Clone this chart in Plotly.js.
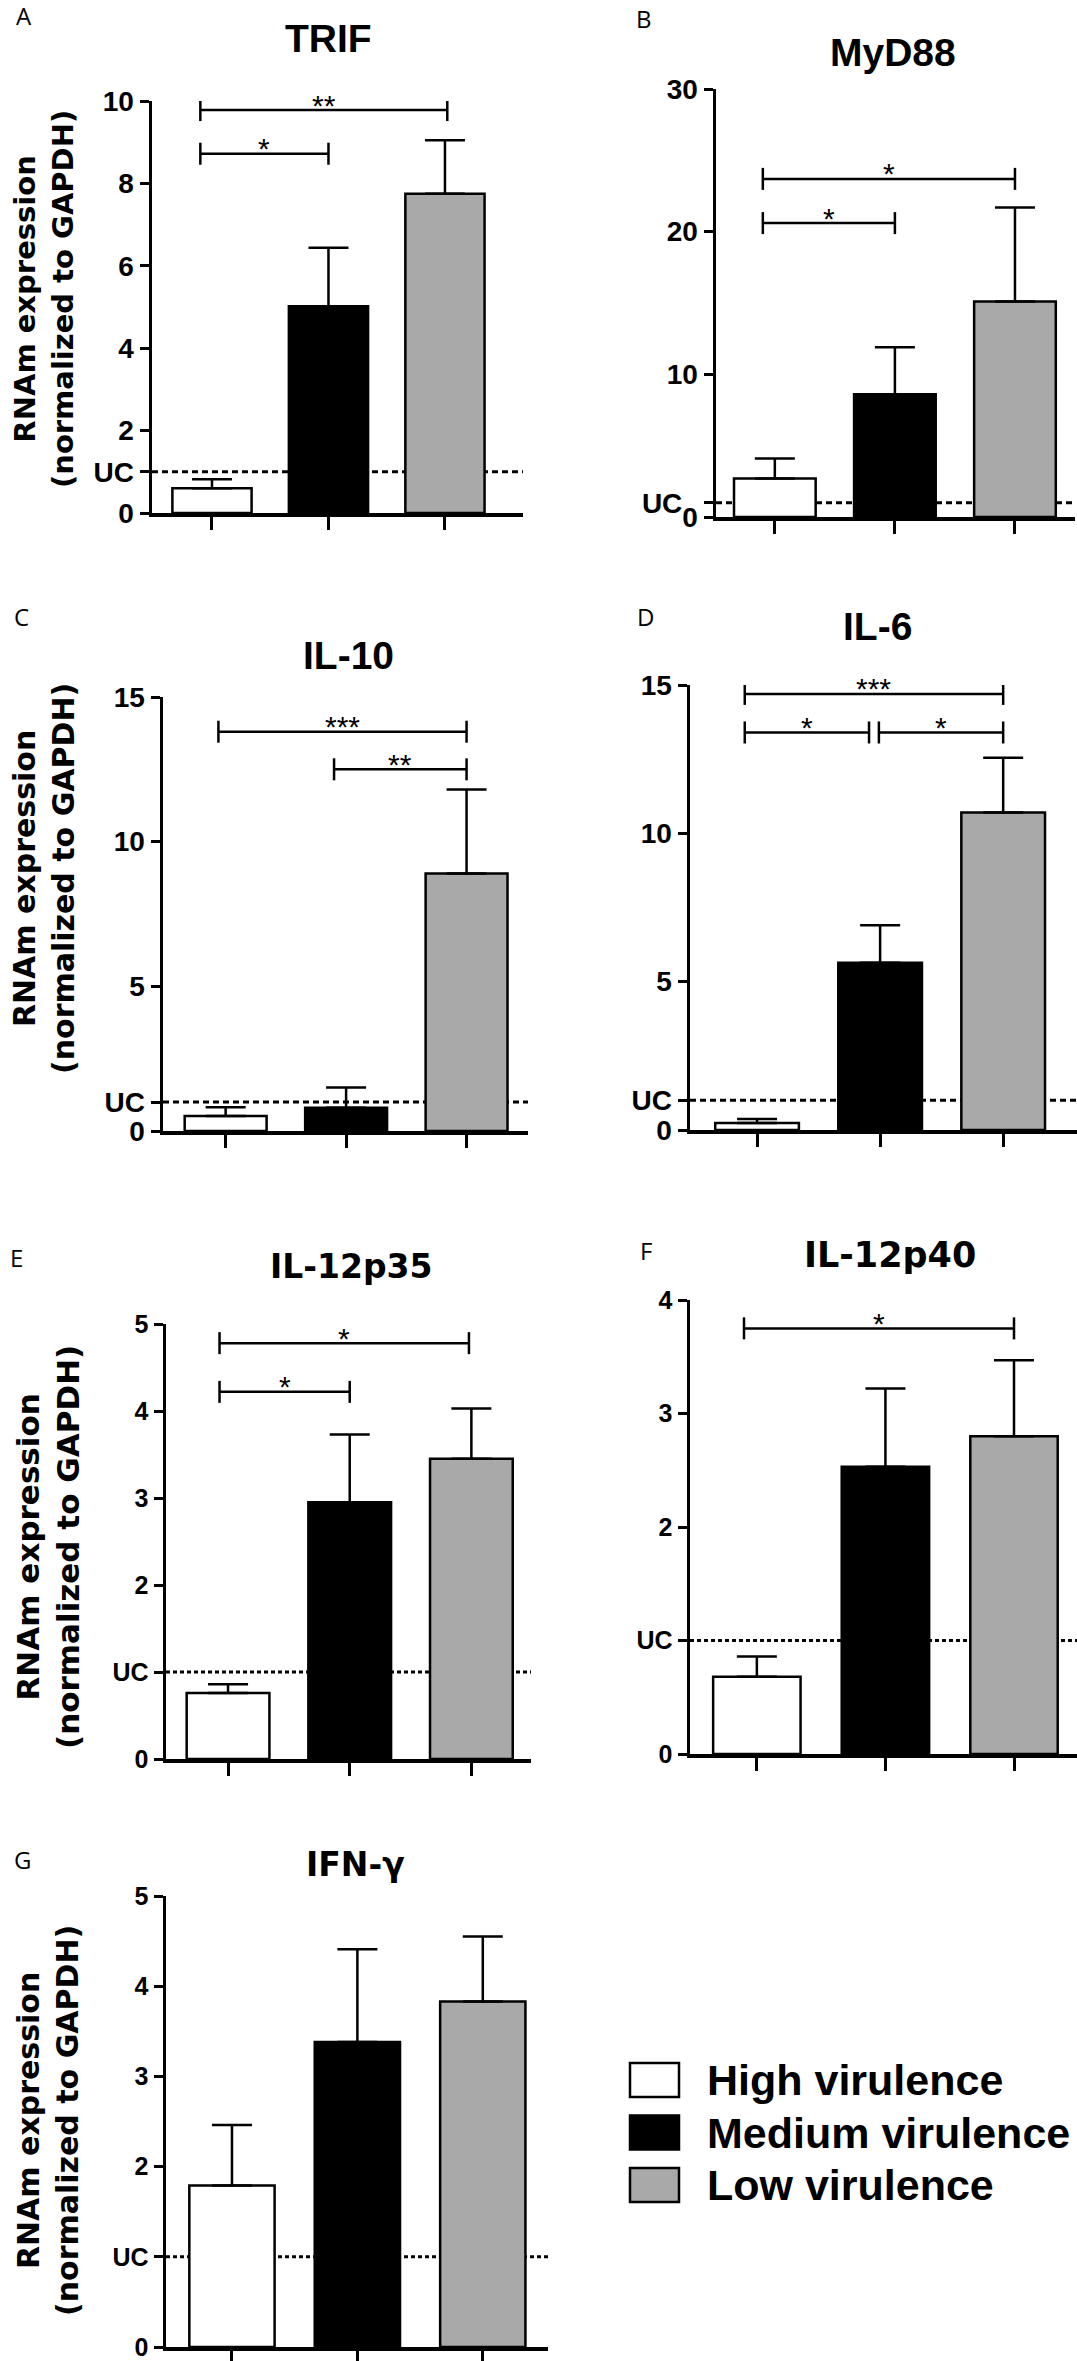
<!DOCTYPE html>
<html>
<head>
<meta charset="utf-8">
<script src="https://cdn.plot.ly/plotly-3.0.1.min.js"></script>
<style>
  body { margin: 0; background: #fff; }
  #chart { width: 1077px; height: 2361px; }
</style>
</head>
<body>
<div id="chart"></div>
<script>
// ─── Data ───────────────────────────────────────────────────
var groups = ['High virulence', 'Medium virulence', 'Low virulence'];
var groupColors = ['#ffffff', '#000000', '#a9a9a9'];

// significance rows: [from, to, height, stars]
var trifMean = [0.6, 5.02, 7.75];
var trifErr = [0.22, 1.42, 1.3];
var trifSig = [[-0.1, 1, 8.72, '*'], [-0.1, 2.02, 9.78, '**']];

var myd88Mean = [2.7, 8.6, 15.1];
var myd88Err = [1.4, 3.3, 6.6];
var myd88Sig = [[-0.1, 1, 20.6, '*'], [-0.1, 2, 23.7, '*']];

var il10Mean = [0.52, 0.8, 8.9];
var il10Err = [0.3, 0.7, 2.9];
var il10Sig = [[-0.06, 2, 13.8, '***'], [0.9, 2, 12.5, '**']];

var il6Mean = [0.24, 5.64, 10.7];
var il6Err = [0.13, 1.26, 1.85];
var il6Sig = [[-0.1, 2, 14.7, '***'], [-0.1, 0.91, 13.4, '*'], [0.99, 2, 13.4, '*']];

var il12p35Mean = [0.76, 2.95, 3.45];
var il12p35Err = [0.1, 0.78, 0.58];
var il12p35Sig = [[-0.07, 1, 4.22, '*'], [-0.07, 1.98, 4.78, '*']];

var il12p40Mean = [0.68, 2.53, 2.8];
var il12p40Err = [0.18, 0.69, 0.67];
var il12p40Sig = [[-0.1, 2, 3.75, '*']];

var ifngMean = [1.79, 3.38, 3.83];
var ifngErr = [0.67, 1.03, 0.72];
var ifngSig = [];

var ucLevel = 1;
var yTitleText = 'RNAm expression<br>(normalized to GAPDH)';

// ─── Panel layout (pixels in a 1077 x 2361 page) ────────────
var W = 1077, H = 2361;
var BOLD = 'Liberation Sans, Arial, sans-serif';
var WIDE = 'DejaVu Sans, sans-serif';

var panels = [
  { letter: 'A', title: 'TRIF', mean: trifMean, err: trifErr, sig: trifSig,
    ymax: 10, ticks: [0, 1, 2, 4, 6, 8, 10], tickText: ['0', 'UC', '2', '4', '6', '8', '10'],
    ax: 152, end: 523, y0: 513, yTop: 101, xr: [-0.515, 2.67], tickSize: 28, dash: '6px,4px',
    titlePos: [328, 39, 39, BOLD], letterPos: [14, 16], yTitle: [44, 299, 29] },
  { letter: 'B', title: 'MyD88', mean: myd88Mean, err: myd88Err, sig: myd88Sig,
    ymax: 30, ticks: [0, 1, 10, 20, 30], tickText: ['0', 'UC\u00a0\u00a0', '10', '20', '30'],
    ax: 716, end: 1075, y0: 517, yTop: 89, xr: [-0.49, 2.5], tickSize: 28, dash: '6px,4px',
    titlePos: [893, 52, 39, BOLD], letterPos: [634, 18], yTitle: null },
  { letter: 'C', title: 'IL-10', mean: il10Mean, err: il10Err, sig: il10Sig,
    ymax: 15, ticks: [0, 1, 5, 10, 15], tickText: ['0', 'UC', '5', '10', '15'],
    ax: 163, end: 528, y0: 1131, yTop: 697, xr: [-0.52, 2.51], tickSize: 28, dash: '6px,4px',
    titlePos: [348, 655, 39, BOLD], letterPos: [12, 617], yTitle: [44, 879, 30] },
  { letter: 'D', title: 'IL-6', mean: il6Mean, err: il6Err, sig: il6Sig,
    ymax: 15, ticks: [0, 1, 5, 10, 15], tickText: ['0', 'UC', '5', '10', '15'],
    ax: 690, end: 1077, y0: 1130, yTop: 685, xr: [-0.545, 2.6], tickSize: 28, dash: '6px,4px',
    titlePos: [877, 627, 39, BOLD], letterPos: [635, 617], yTitle: null },
  { letter: 'E', title: 'IL-12p35', mean: il12p35Mean, err: il12p35Err, sig: il12p35Sig,
    ymax: 5, ticks: [0, 1, 2, 3, 4, 5], tickText: ['0', 'UC', '2', '3', '4', '5'],
    ax: 166, end: 531, y0: 1759, yTop: 1324, xr: [-0.51, 2.49], tickSize: 25, dash: '4px,3px',
    titlePos: [351, 1266, 33, WIDE], letterPos: [8, 1257], yTitle: [48, 1547, 31] },
  { letter: 'F', title: 'IL-12p40', mean: il12p40Mean, err: il12p40Err, sig: il12p40Sig,
    ymax: 4, ticks: [0, 1, 2, 3, 4], tickText: ['0', 'UC', '2', '3', '4'],
    ax: 690, end: 1077, y0: 1754, yTop: 1300, xr: [-0.52, 2.49], tickSize: 25, dash: '4px,3px',
    titlePos: [890, 1255, 35, WIDE], letterPos: [638, 1250], yTitle: null },
  { letter: 'G', title: 'IFN-γ', mean: ifngMean, err: ifngErr, sig: ifngSig,
    ymax: 5, ticks: [0, 1, 2, 3, 4, 5], tickText: ['0', 'UC', '2', '3', '4', '5'],
    ax: 166, end: 548, y0: 2347, yTop: 1896, xr: [-0.526, 2.52], tickSize: 25, dash: '4px,3px',
    titlePos: [355, 1864, 33, WIDE], letterPos: [12, 1859], yTitle: [48, 2121, 30] }
];

var traces = [];
var shapes = [];
var annotations = [];
var layout = {
  width: W, height: H,
  margin: { l: 0, r: 0, t: 0, b: 0 },
  paper_bgcolor: '#fff', plot_bgcolor: 'rgba(0,0,0,0)',
  showlegend: false,
  font: { family: BOLD, color: '#000' }
};

function px2x(p) { return p / W; }
function px2y(p) { return 1 - p / H; }

panels.forEach(function (p, i) {
  var n = i === 0 ? '' : String(i + 1);
  var xa = 'x' + n, ya = 'y' + n;

  layout['xaxis' + n] = {
    domain: [px2x(p.ax), px2x(p.end)], range: p.xr, anchor: ya,
    showline: true, linecolor: '#000', linewidth: 3.5,
    ticks: 'outside', tickvals: [0, 1, 2], ticklen: 13, tickwidth: 3, tickcolor: '#000',
    showticklabels: false, showgrid: false, zeroline: false, fixedrange: true
  };
  layout['yaxis' + n] = {
    domain: [px2y(p.y0), px2y(p.yTop)], range: [0, p.ymax], anchor: xa,
    showline: true, linecolor: '#000', linewidth: 3.5,
    ticks: 'outside', tickvals: p.ticks, ticktext: p.tickText,
    ticklen: 9, tickwidth: 3, tickcolor: '#000', ticklabeloverflow: 'allow',
    tickfont: { family: BOLD, size: p.tickSize, weight: 'bold', color: '#000' },
    showgrid: false, zeroline: false, fixedrange: true
  };

  traces.push({
    type: 'bar', x: [0, 1, 2], y: p.mean, width: 0.68,
    xaxis: xa, yaxis: ya, hoverinfo: 'y',
    marker: { color: groupColors, line: { color: '#000', width: 2.5 } },
    error_y: { type: 'data', symmetric: false, array: p.err, arrayminus: [0, 0, 0],
      color: '#000', thickness: 2.5, width: 20 }
  });

  // dashed untreated-control level, behind the bars
  shapes.push({
    type: 'line', layer: 'below', xref: xa + ' domain', yref: ya,
    x0: 0, x1: 1, y0: ucLevel, y1: ucLevel,
    line: { color: '#000', width: 3, dash: p.dash }
  });

  // significance brackets
  var h = 11 * p.ymax / (p.y0 - p.yTop);
  p.sig.forEach(function (s) {
    var a = s[0], b = s[1], y = s[2];
    var ln = { color: '#000', width: 2.5 };
    shapes.push({ type: 'line', xref: xa, yref: ya, x0: a, x1: b, y0: y, y1: y, line: ln });
    shapes.push({ type: 'line', xref: xa, yref: ya, x0: a, x1: a, y0: y - h, y1: y + h, line: ln });
    shapes.push({ type: 'line', xref: xa, yref: ya, x0: b, x1: b, y0: y - h, y1: y + h, line: ln });
    annotations.push({
      xref: xa, yref: ya, x: (a + b) / 2, y: y, text: s[3], showarrow: false,
      yanchor: 'middle', yshift: 5, font: { family: BOLD, size: 30, color: '#000' }
    });
  });

  annotations.push({
    xref: 'paper', yref: 'paper', x: px2x(p.titlePos[0]), y: px2y(p.titlePos[1]),
    text: p.title, showarrow: false, xanchor: 'center', yanchor: 'middle',
    font: { family: p.titlePos[3], size: p.titlePos[2], weight: 'bold', color: '#000' }
  });
  annotations.push({
    xref: 'paper', yref: 'paper', x: px2x(p.letterPos[0]), y: px2y(p.letterPos[1]),
    text: p.letter, showarrow: false, xanchor: 'left', yanchor: 'middle',
    font: { family: 'Open Sans, sans-serif', size: 24, color: '#000' }
  });
  if (p.yTitle) {
    annotations.push({
      xref: 'paper', yref: 'paper', x: px2x(p.yTitle[0]), y: px2y(p.yTitle[1]),
      text: yTitleText, showarrow: false, textangle: -90,
      xanchor: 'center', yanchor: 'middle',
      font: { family: WIDE, size: p.yTitle[2], weight: 'bold', color: '#000' }
    });
  }
});

// ─── Legend (drawn by hand so the swatches can be large) ────
var legendTop = 2063, legendStep = 52.5;
groups.forEach(function (g, i) {
  var top = legendTop + i * legendStep;
  shapes.push({
    type: 'rect', xref: 'paper', yref: 'paper',
    x0: px2x(630), x1: px2x(679), y0: px2y(top), y1: px2y(top + 34),
    fillcolor: groupColors[i], line: { color: '#000', width: 2.5 }
  });
  annotations.push({
    xref: 'paper', yref: 'paper', x: px2x(705), y: px2y(top + 17),
    text: g, showarrow: false, xanchor: 'left', yanchor: 'middle',
    font: { family: BOLD, size: 43, weight: 'bold', color: '#000' }
  });
});

layout.shapes = shapes;
layout.annotations = annotations;

Plotly.newPlot('chart', traces, layout, { staticPlot: true, displayModeBar: false });
</script>
</body>
</html>
